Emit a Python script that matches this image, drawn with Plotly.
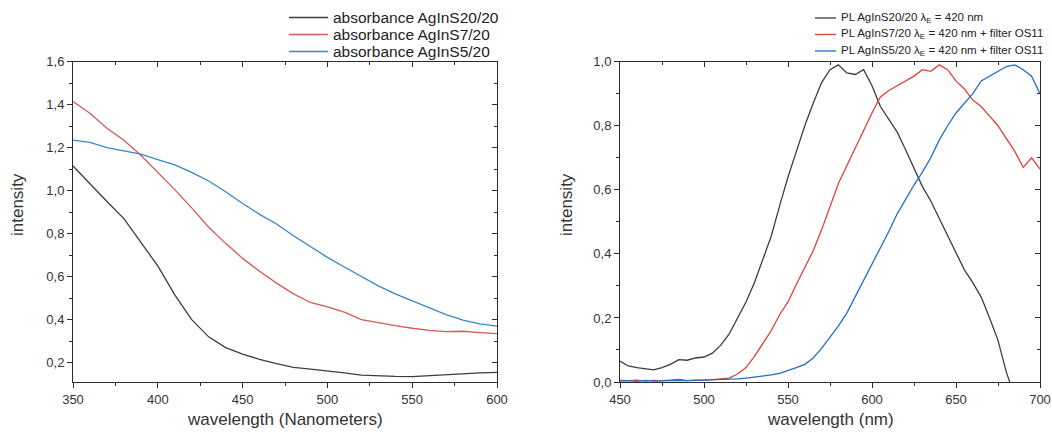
import plotly.graph_objects as go

# ---------------- data: absorbance (left) ----------------
abs_wl = [350, 360, 370, 380, 390, 400, 410, 420, 430, 440, 450, 460, 470,
          480, 490, 500, 510, 520, 530, 540, 550, 560, 570, 580, 590, 600]
abs_s20 = [1.115, 1.03, 0.95, 0.87, 0.76, 0.65, 0.515, 0.40, 0.32, 0.27, 0.24,
           0.215, 0.195, 0.178, 0.17, 0.162, 0.152, 0.142, 0.138, 0.136, 0.135,
           0.14, 0.143, 0.148, 0.152, 0.155]
abs_s7 = [1.415, 1.36, 1.29, 1.235, 1.165, 1.085, 1.005, 0.92, 0.83, 0.755, 0.685,
          0.625, 0.57, 0.52, 0.48, 0.46, 0.435, 0.40, 0.385, 0.372, 0.36, 0.35,
          0.344, 0.346, 0.34, 0.335]
abs_s5 = [1.235, 1.225, 1.20, 1.185, 1.17, 1.145, 1.12, 1.085, 1.045, 0.995, 0.94,
          0.89, 0.845, 0.79, 0.74, 0.69, 0.645, 0.60, 0.557, 0.52, 0.487, 0.455,
          0.423, 0.398, 0.38, 0.37]

# ---------------- data: photoluminescence (right) ----------------
pl_wl = [450, 455, 460, 465, 470, 475, 480, 485, 490, 495, 500, 505, 510, 515,
         520, 525, 530, 535, 540, 545, 550, 555, 560, 565, 570, 575, 580, 585,
         590, 595, 600, 605, 610, 615, 620, 625, 630, 635, 640, 645, 650, 655,
         660, 665, 670, 675, 680, 685, 690, 695, 700]
pl_wl_s20 = [450, 455, 460, 465, 470, 475, 480, 485, 490, 495, 500, 505, 510, 515,
             520, 525, 530, 535, 540, 545, 550, 555, 560, 565, 570, 575, 580, 585,
             590, 595, 600, 605, 610, 615, 620, 625, 630, 635, 640, 645, 650, 655,
             660, 665, 670, 675, 680, 682]
pl_s20 = [0.065, 0.05, 0.045, 0.042, 0.038, 0.045, 0.055, 0.07, 0.068, 0.075, 0.078,
          0.09, 0.115, 0.15, 0.2, 0.25, 0.31, 0.385, 0.455, 0.55, 0.64, 0.72, 0.8,
          0.87, 0.935, 0.975, 0.99, 0.965, 0.96, 0.975, 0.925, 0.86, 0.82, 0.78,
          0.725, 0.665, 0.61, 0.565, 0.51, 0.455, 0.405, 0.35, 0.31, 0.265, 0.2,
          0.13, 0.03, 0.0]
pl_s7 = [0.005, 0.004, 0.006, 0.003, 0.005, 0.004, 0.006, 0.008, 0.004, 0.006, 0.005,
         0.007, 0.008, 0.012, 0.025, 0.045, 0.08, 0.12, 0.16, 0.21, 0.25, 0.305,
         0.355, 0.41, 0.475, 0.55, 0.62, 0.675, 0.73, 0.79, 0.84, 0.89, 0.91, 0.925,
         0.94, 0.955, 0.975, 0.97, 0.99, 0.975, 0.94, 0.915, 0.88, 0.86, 0.83, 0.8,
         0.76, 0.72, 0.67, 0.7, 0.665]
pl_s5 = [0.003, 0.004, 0.002, 0.005, 0.003, 0.004, 0.003, 0.005, 0.004, 0.005, 0.006,
         0.007, 0.006, 0.008, 0.01, 0.012, 0.015, 0.018, 0.022, 0.027, 0.035, 0.045,
         0.055, 0.075, 0.105, 0.14, 0.175, 0.215, 0.265, 0.32, 0.37, 0.42, 0.47,
         0.525, 0.57, 0.615, 0.655, 0.7, 0.755, 0.8, 0.84, 0.87, 0.9, 0.94, 0.955,
         0.97, 0.985, 0.99, 0.975, 0.955, 0.9]

abs_names = ["absorbance AgInS20/20", "absorbance AgInS7/20", "absorbance AgInS5/20"]
pl_names = ["PL AgInS20/20 λ<sub>E</sub> = 420 nm",
            "PL AgInS7/20 λ<sub>E</sub> = 420 nm + filter OS11",
            "PL AgInS5/20 λ<sub>E</sub> = 420 nm + filter OS11"]

C_BLACK = "#3d3d3d"
C_RED_L = "#d45a5a"
C_BLUE_L = "#3a86c6"
C_RED_R = "#e0403c"
C_BLUE_R = "#1f6fc8"
FONT = "Liberation Sans, Arial, sans-serif"
AX = "#2b2b2b"
W, H = 1052, 434

left_cols = [C_BLACK, C_RED_L, C_BLUE_L]
right_cols = [C_BLACK, C_RED_R, C_BLUE_R]

fig = go.Figure()
for y, name, col in zip([abs_s20, abs_s7, abs_s5], abs_names, left_cols):
    fig.add_trace(go.Scatter(x=abs_wl, y=y, mode="lines", name=name,
                             line=dict(color=col, width=1.3),
                             xaxis="x", yaxis="y", showlegend=False))
for x, y, name, col in zip([pl_wl_s20, pl_wl, pl_wl], [pl_s20, pl_s7, pl_s5], pl_names,
                           right_cols):
    fig.add_trace(go.Scatter(x=x, y=y, mode="lines", name=name,
                             line=dict(color=col, width=1.3),
                             xaxis="x2", yaxis="y2", showlegend=False))

# empty helper traces so the mirror axes (inside ticks) get drawn
for xa, ya in [("x3", "y3"), ("x4", "y4")]:
    fig.add_trace(go.Scatter(x=[], y=[], xaxis=xa, yaxis=ya, showlegend=False,
                             hoverinfo="skip"))

YDOM = [1 - 382 / H, 1 - 61.7 / H]
XDOM1 = [73 / W, 497 / W]
XDOM2 = [620 / W, 1040 / W]

tickfont = dict(family=FONT, size=13, color="#333")


def main_axis(rng, dtick, mdtick, dom, anchor, fmt=None):
    d = dict(range=rng, domain=dom, anchor=anchor, showgrid=False, zeroline=False,
             automargin=False,
             showline=True, linecolor=AX, linewidth=1, ticks="outside", ticklen=5,
             tickcolor=AX, tickwidth=1, dtick=dtick, tick0=0, tickfont=tickfont,
             mirror=True,
             minor=dict(ticks="outside", ticklen=3, dtick=mdtick, tickcolor=AX,
                        showgrid=False))
    if fmt:
        d["tickformat"] = fmt
    return d


def mirror_axis(rng, dtick, mdtick, dom, anchor, overlay, side):
    return dict(range=rng, domain=dom, anchor=anchor, overlaying=overlay, side=side,
                automargin=False,
                showgrid=False, zeroline=False, showline=False, ticks="inside",
                ticklen=5, tickcolor=AX, dtick=dtick, tick0=0, showticklabels=False,
                minor=dict(ticks="inside", ticklen=3, dtick=mdtick, tickcolor=AX,
                           showgrid=False))


# ---- hand-made legends (rows closer together than plotly's legend allows) ----
shapes = []
annotations = []
leg_left_rows = [17.5, 34.5, 51.5]
leg_right_rows = [18, 34.5, 51]
for name, col, ry in zip(abs_names, left_cols, leg_left_rows):
    shapes.append(dict(type="line", xref="paper", yref="paper",
                       x0=289 / W, x1=328 / W, y0=1 - ry / H, y1=1 - ry / H,
                       line=dict(color=col, width=1.3)))
    annotations.append(dict(text=name, x=331 / W, y=1 - ry / H, xref="paper",
                            yref="paper", xanchor="left", yanchor="middle",
                            showarrow=False,
                            font=dict(family=FONT, size=15.5, color="#222")))
for name, col, ry in zip(pl_names, right_cols, leg_right_rows):
    shapes.append(dict(type="line", xref="paper", yref="paper",
                       x0=815 / W, x1=836 / W, y0=1 - ry / H, y1=1 - ry / H,
                       line=dict(color=col, width=1.3)))
    annotations.append(dict(text=name, x=839 / W, y=1 - ry / H, xref="paper",
                            yref="paper", xanchor="left", yanchor="middle",
                            showarrow=False,
                            font=dict(family=FONT, size=11.5, color="#222")))

title_font = dict(family=FONT, size=17, color="#333")
annotations += [
    dict(text="intensity", x=17 / W, y=1 - 205 / H, xref="paper", yref="paper",
         xanchor="center", yanchor="middle",
         textangle=-90, showarrow=False, font=title_font),
    dict(text="intensity", x=566 / W, y=1 - 205 / H, xref="paper", yref="paper",
         xanchor="center", yanchor="middle",
         textangle=-90, showarrow=False, font=title_font),
    dict(text="wavelength (Nanometers)", x=285 / W, y=1 - 419 / H, xref="paper",
         yref="paper", xanchor="center", yanchor="middle",
         showarrow=False, font=title_font),
    dict(text="wavelength (nm)", x=830 / W, y=1 - 419 / H, xref="paper",
         yref="paper", xanchor="center", yanchor="middle",
         showarrow=False, font=title_font),
]

fig.update_layout(
    width=W, height=H,
    margin=dict(l=0, r=0, t=0, b=0),
    paper_bgcolor="white", plot_bgcolor="white",
    separators=", ",
    showlegend=False,
    font=dict(family=FONT, color="#333"),
    xaxis=main_axis([350, 600], 50, 25, XDOM1, "y"),
    yaxis=main_axis([0.11, 1.6], 0.2, 0.1, YDOM, "x", ".1f"),
    xaxis2=main_axis([450, 700], 50, 25, XDOM2, "y2"),
    yaxis2=main_axis([0, 1.0], 0.2, 0.1, YDOM, "x2", ".1f"),
    xaxis3=mirror_axis([350, 600], 50, 25, XDOM1, "y3", "x", "top"),
    yaxis3=mirror_axis([0.11, 1.6], 0.2, 0.1, YDOM, "x3", "y", "right"),
    xaxis4=mirror_axis([450, 700], 50, 25, XDOM2, "y4", "x2", "top"),
    yaxis4=mirror_axis([0, 1.0], 0.2, 0.1, YDOM, "x4", "y2", "right"),
    shapes=shapes,
    annotations=annotations,
)

fig.write_html("out.html")
